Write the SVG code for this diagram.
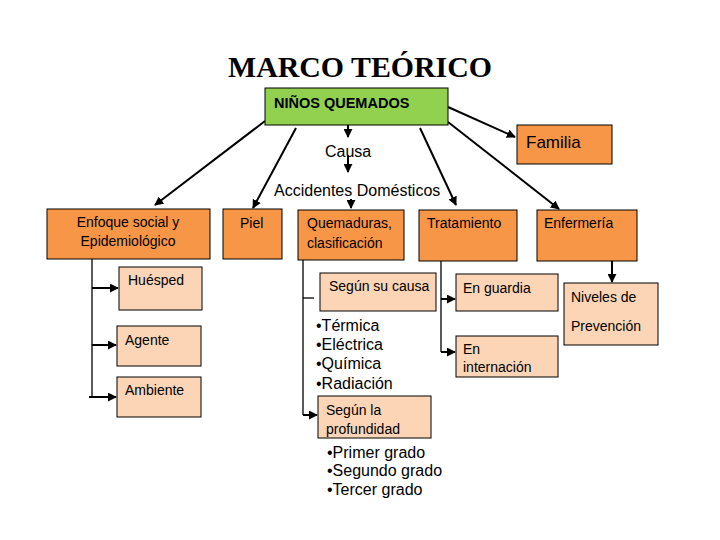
<svg xmlns="http://www.w3.org/2000/svg" width="720" height="540" viewBox="0 0 720 540">
<style>
.t{font-family:"Liberation Sans",Arial,sans-serif;fill:#000}
.c{font-size:14px}
.a{font-size:16px}
.box{stroke:#000;stroke-width:1}
.o{fill:#F79646}
.p{fill:#FBD5B5}
.g{fill:#92D050}
.ln{stroke:#000;stroke-width:2;fill:none}
.ln1{stroke:#000;stroke-width:1.3;fill:none}
</style>
<defs>
<marker id="ah" viewBox="0 0 10 10" refX="9" refY="5" markerWidth="4.5" markerHeight="4.5" orient="auto" markerUnits="strokeWidth">
<path d="M0,0 L10,5 L0,10 z" fill="#000"/>
</marker>
</defs>
<rect width="720" height="540" fill="#fff"/>
<text x="228" y="77" font-family="'Liberation Serif','Times New Roman',serif" font-weight="bold" font-size="29" textLength="264" lengthAdjust="spacingAndGlyphs">MARCO TEÓRICO</text>

<g id="connectors">
<line class="ln" x1="265" y1="121" x2="155" y2="205" marker-end="url(#ah)"/>
<line class="ln" x1="296" y1="128" x2="253" y2="208" marker-end="url(#ah)"/>
<line class="ln" x1="420" y1="128" x2="456" y2="205" marker-end="url(#ah)"/>
<line class="ln" x1="448" y1="122" x2="559" y2="209" marker-end="url(#ah)"/>
<line class="ln" x1="448" y1="107" x2="515" y2="137" marker-end="url(#ah)"/>
<line class="ln" x1="348" y1="117" x2="348" y2="137" marker-end="url(#ah)"/>
<line class="ln" x1="348" y1="155" x2="348" y2="172" marker-end="url(#ah)"/>
<line class="ln" x1="351" y1="199" x2="351" y2="208" marker-end="url(#ah)"/>
<line class="ln1" x1="92" y1="259" x2="92" y2="398"/>
<line class="ln" x1="92" y1="288" x2="118" y2="288" marker-end="url(#ah)"/>
<line class="ln" x1="92" y1="345" x2="116" y2="345" marker-end="url(#ah)"/>
<line class="ln" x1="89" y1="397" x2="116" y2="397" marker-end="url(#ah)"/>
<line class="ln1" x1="303" y1="260" x2="303" y2="415"/>
<line class="ln1" x1="303" y1="298" x2="314" y2="298"/>
<line class="ln" x1="303" y1="415" x2="317" y2="415" marker-end="url(#ah)"/>
<line class="ln1" x1="441" y1="261" x2="441" y2="352"/>
<line class="ln" x1="441" y1="299" x2="455" y2="299" marker-end="url(#ah)"/>
<line class="ln" x1="441" y1="352" x2="455" y2="352" marker-end="url(#ah)"/>
<line class="ln" x1="612" y1="261" x2="612" y2="282" marker-end="url(#ah)"/>
</g>

<g id="ninos">
<rect class="box g" x="265" y="88" width="183" height="37"/>
<text class="t" x="274" y="108" font-size="14.5" font-weight="bold">NIÑOS QUEMADOS</text>
</g>
<g id="familia">
<rect class="box o" x="517" y="125" width="95" height="39"/>
<text class="t" x="526" y="148" font-size="17">Familia</text>
</g>
<g id="causa"><text class="t a" x="325" y="157">Causa</text></g>
<g id="accidentes"><text class="t a" x="274" y="196">Accidentes Domésticos</text></g>

<g id="enfoque">
<rect class="box o" x="47" y="209" width="163" height="50"/>
<text class="t c" x="128" y="227" text-anchor="middle">Enfoque social y</text>
<text class="t c" x="128" y="246" text-anchor="middle">Epidemiológico</text>
</g>
<g id="piel">
<rect class="box o" x="223" y="209" width="59" height="50"/>
<text class="t c" x="240" y="228">Piel</text>
</g>
<g id="quemaduras">
<rect class="box o" x="298" y="210" width="106" height="50"/>
<text class="t c" x="307" y="228">Quemaduras,</text>
<text class="t c" x="307" y="248">clasificación</text>
</g>
<g id="tratamiento">
<rect class="box o" x="419" y="210" width="98" height="51"/>
<text class="t c" x="427" y="228">Tratamiento</text>
</g>
<g id="enfermeria">
<rect class="box o" x="537" y="210" width="100" height="51"/>
<text class="t c" x="544" y="228">Enfermería</text>
</g>

<g id="huesped">
<rect class="box p" x="119" y="267" width="83" height="43"/>
<text class="t c" x="128" y="285">Huésped</text>
</g>
<g id="agente">
<rect class="box p" x="117" y="326" width="84" height="40"/>
<text class="t c" x="125" y="345">Agente</text>
</g>
<g id="ambiente">
<rect class="box p" x="117" y="377" width="84" height="40"/>
<text class="t c" x="125" y="395">Ambiente</text>
</g>

<g id="segun-causa">
<rect class="box p" x="320" y="273" width="116" height="38"/>
<text class="t c" x="329" y="291">Según su causa</text>
</g>
<g id="causa-list">
<text class="t a" x="316" y="331">•Térmica</text>
<text class="t a" x="316" y="350">•Eléctrica</text>
<text class="t a" x="316" y="369">•Química</text>
<text class="t a" x="316" y="389">•Radiación</text>
</g>
<g id="segun-profundidad">
<rect class="box p" x="318" y="396" width="113" height="42"/>
<text class="t c" x="326" y="415">Según la</text>
<text class="t c" x="326" y="434">profundidad</text>
</g>
<g id="profundidad-list">
<text class="t a" x="327" y="458">•Primer grado</text>
<text class="t a" x="327" y="476">•Segundo grado</text>
<text class="t a" x="327" y="495">•Tercer grado</text>
</g>

<g id="guardia">
<rect class="box p" x="456" y="274" width="102" height="37"/>
<text class="t c" x="463" y="293">En guardia</text>
</g>
<g id="internacion">
<rect class="box p" x="456" y="336" width="102" height="41"/>
<text class="t c" x="463" y="354">En</text>
<text class="t c" x="463" y="372">internación</text>
</g>
<g id="niveles">
<rect class="box p" x="564" y="283" width="94" height="62"/>
<text class="t c" x="571" y="302">Niveles de</text>
<text class="t c" x="571" y="331">Prevención</text>
</g>
</svg>
